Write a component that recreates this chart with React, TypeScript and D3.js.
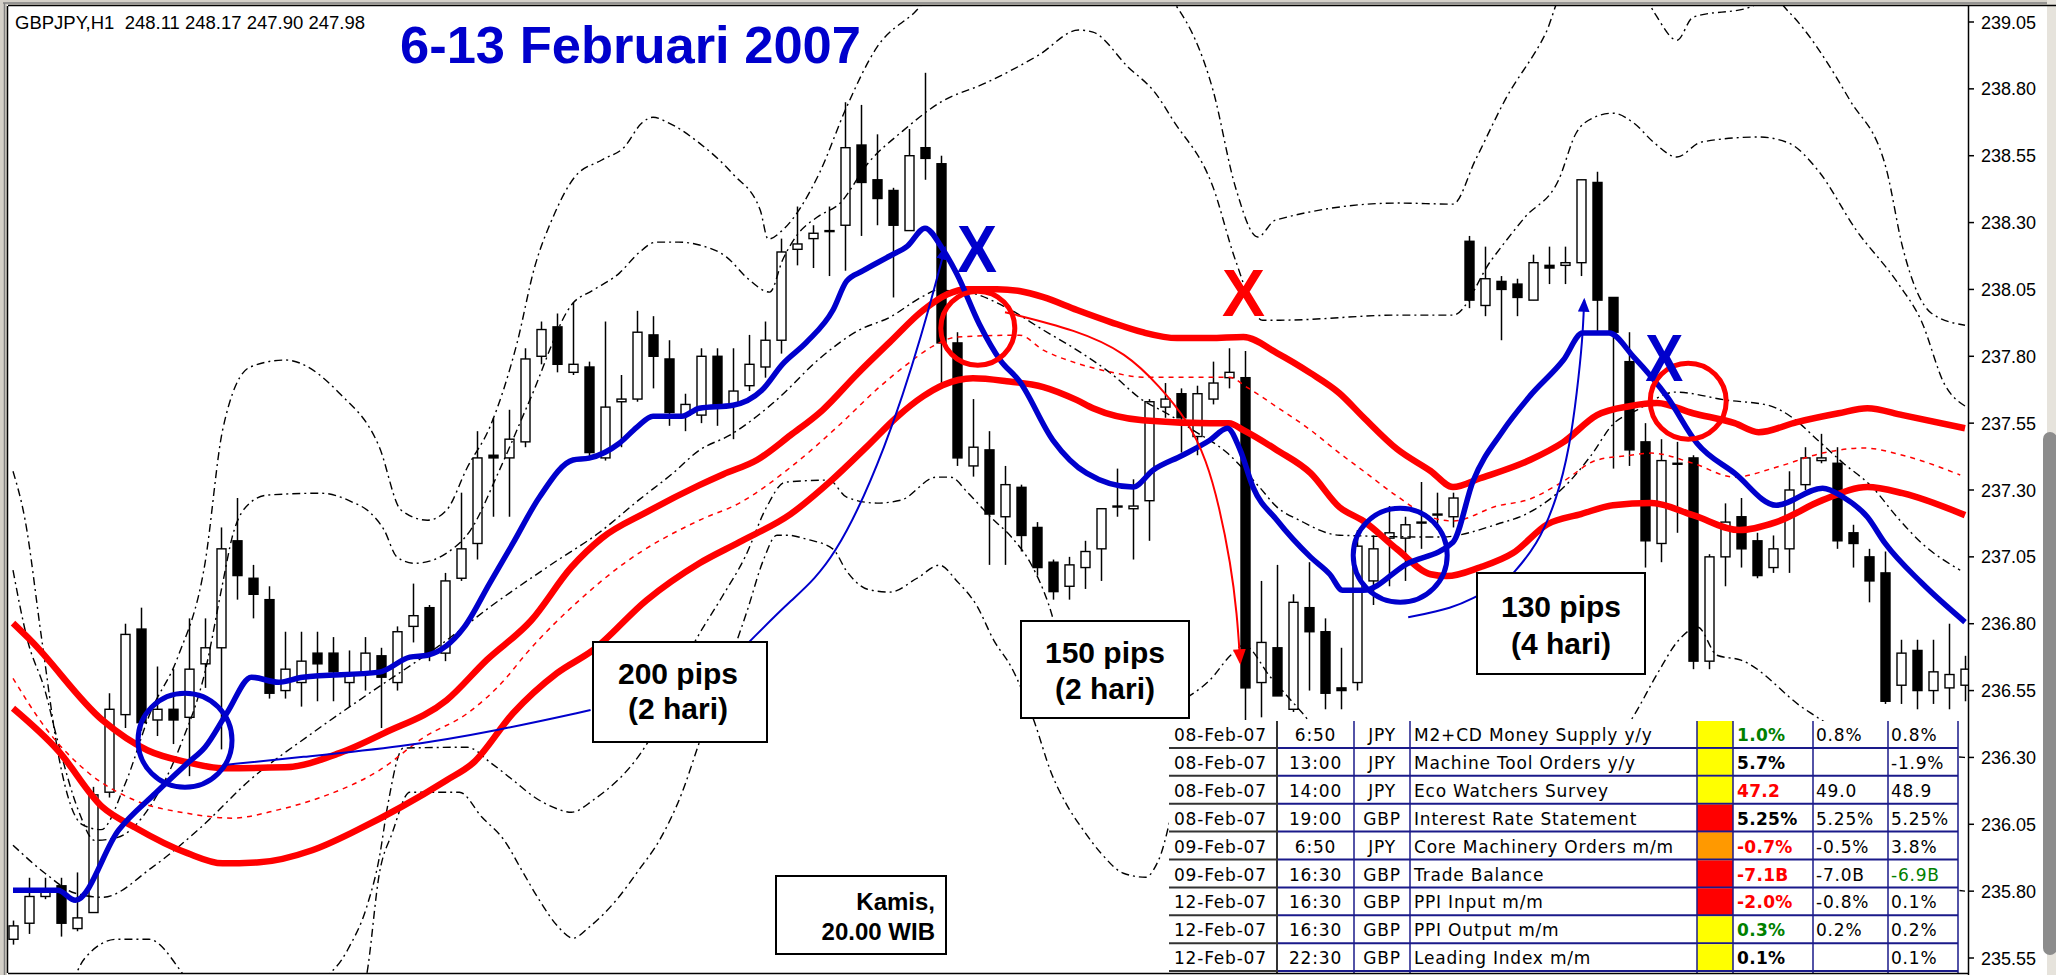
import React from 'react'
import * as d3 from 'd3'

const width = 2056
const height = 975
const frame = { left: 8, top: 6, right: 1968, bottom: 973 }
const bodyWidth = 9
const blue = '#0000CC'
const red = '#FF0000'

type Pt = [number, number]

const headerText = 'GBPJPY,H1  248.11 248.17 247.90 247.98'
const title = '6-13 Februari 2007'

const priceTicks = [239.05, 238.8, 238.55, 238.3, 238.05, 237.8, 237.55, 237.3, 237.05, 236.8, 236.55, 236.3, 236.05, 235.8, 235.55]

const candleOpen = [
  235.62, 235.68, 235.78, 235.82, 235.66, 235.72, 236.17, 236.46, 236.78, 236.44,
  236.48, 236.45, 236.65, 236.71, 237.11, 236.97, 236.89, 236.55, 236.58, 236.69,
  236.69, 236.58, 236.62, 236.68, 236.58, 236.79, 236.86, 236.69, 236.97, 237.1,
  237.43, 237.42, 237.48, 237.8, 237.91, 237.74, 237.76, 237.42, 237.63, 237.64,
  237.88, 237.79, 237.58, 237.58, 237.8, 237.62, 237.69, 237.76, 237.86, 238.2,
  238.24, 238.27, 238.29, 238.59, 238.46, 238.42, 238.27, 238.58, 238.52, 237.85,
  237.39, 237.45, 237.2, 237.31, 237.16, 237.03, 236.94, 237.01, 237.08, 237.24,
  237.23, 237.26, 237.61, 237.66, 237.5, 237.64, 237.72, 237.72, 236.58, 236.71,
  236.48, 236.86, 236.77, 236.56, 236.58, 236.96, 237.12, 237.12, 237.18, 237.21,
  237.2, 238.23, 237.99, 238.08, 238.07, 238.01, 238.14, 238.14, 238.15, 238.45,
  238.02, 237.78, 237.48, 237.1, 237.4, 237.42, 236.66, 237.05, 237.2, 237.11,
  237.01, 237.08, 237.32, 237.41, 237.4, 237.14, 237.05, 236.99, 236.57, 236.7,
  236.55, 236.56, 236.57,
]
const candleHigh = [
  235.69, 235.85, 235.85, 235.85, 235.87, 236.19, 236.54, 236.8, 236.86, 236.64,
  236.63, 236.82, 236.82, 237.16, 237.27, 237.02, 236.94, 236.77, 236.77, 236.77,
  236.75, 236.7, 236.75, 236.71, 236.79, 236.95, 236.87, 236.99, 237.29, 237.52,
  237.57, 237.6, 237.83, 237.93, 237.96, 238.0, 237.78, 237.93, 237.73, 237.97,
  237.95, 237.86, 237.66, 237.83, 237.83, 237.83, 237.88, 237.93, 238.24, 238.36,
  238.29, 238.36, 238.75, 238.74, 238.63, 238.43, 238.65, 238.86, 238.55, 237.89,
  237.64, 237.52, 237.39, 237.32, 237.18, 237.04, 237.05, 237.11, 237.23, 237.38,
  237.34, 237.64, 237.7, 237.68, 237.69, 237.78, 237.83, 237.82, 236.96, 237.02,
  236.91, 237.03, 236.82, 236.71, 237.15, 237.13, 237.24, 237.2, 237.33, 237.29,
  237.29, 238.25, 238.21, 238.1, 238.09, 238.18, 238.21, 238.21, 238.46, 238.49,
  238.02, 237.89, 237.55, 237.49, 237.48, 237.43, 237.06, 237.25, 237.27, 237.14,
  237.13, 237.37, 237.46, 237.51, 237.46, 237.17, 237.08, 237.07, 236.74, 236.74,
  236.74, 236.8, 236.68,
]
const candleLow = [
  235.6, 235.64, 235.77, 235.63, 235.65, 235.72, 236.15, 236.41, 236.4, 236.38,
  236.35, 236.23, 236.56, 236.33, 236.89, 236.82, 236.52, 236.52, 236.49, 236.51,
  236.51, 236.49, 236.55, 236.41, 236.55, 236.73, 236.66, 236.66, 236.96, 237.04,
  237.2, 237.2, 237.46, 237.77, 237.74, 237.73, 237.42, 237.41, 237.46, 237.63,
  237.68, 237.54, 237.52, 237.55, 237.54, 237.49, 237.67, 237.72, 237.81, 238.14,
  238.13, 238.1, 238.12, 238.25, 238.29, 238.02, 238.27, 238.46, 237.7, 237.39,
  237.35, 237.02, 237.02, 237.07, 236.98, 236.89, 236.89, 236.93, 236.96, 237.2,
  237.04, 237.11, 237.57, 237.44, 237.43, 237.62, 237.68, 236.44, 236.45, 236.53,
  236.47, 236.55, 236.48, 236.48, 236.55, 236.87, 236.94, 236.96, 237.08, 237.15,
  237.16, 237.98, 237.95, 237.86, 237.95, 238.01, 238.07, 238.07, 238.1, 237.88,
  237.38, 237.39, 237.01, 237.03, 237.14, 236.63, 236.63, 236.94, 237.01, 236.97,
  236.99, 236.99, 237.3, 237.4, 237.08, 237.01, 236.88, 236.5, 236.5, 236.48,
  236.5, 236.48, 236.51,
]
const candleClose = [
  235.67, 235.78, 235.8, 235.68, 235.7, 236.16, 236.48, 236.76, 236.43, 236.48,
  236.44, 236.63, 236.71, 237.08, 236.98, 236.91, 236.54, 236.63, 236.66, 236.65,
  236.62, 236.61, 236.69, 236.6, 236.77, 236.83, 236.69, 236.96, 237.08, 237.42,
  237.42, 237.49, 237.79, 237.9, 237.77, 237.77, 237.44, 237.61, 237.64, 237.89,
  237.8, 237.59, 237.62, 237.8, 237.62, 237.67, 237.77, 237.86, 238.19, 238.22,
  238.26, 238.27, 238.58, 238.45, 238.39, 238.29, 238.55, 238.54, 237.85, 237.42,
  237.46, 237.21, 237.32, 237.13, 237.01, 236.92, 237.02, 237.07, 237.23, 237.24,
  237.24, 237.63, 237.64, 237.57, 237.66, 237.7, 237.74, 236.56, 236.73, 236.53,
  236.88, 236.77, 236.54, 236.55, 237.09, 237.08, 237.14, 237.17, 237.18, 237.21,
  237.27, 238.01, 238.09, 238.05, 238.02, 238.15, 238.13, 238.15, 238.46, 238.01,
  237.89, 237.45, 237.11, 237.41, 237.4, 236.66, 237.05, 237.18, 237.08, 236.98,
  237.08, 237.3, 237.42, 237.42, 237.11, 237.1, 236.96, 236.51, 236.69, 236.55,
  236.62, 236.61, 236.63,
]

// indicator lines, [bar index, price]
const blueLine: Pt[] = [[0,235.803],[2.8,235.803],[3.9,235.766],[6.6,236.028],[8.9,236.166],[10.9,236.278],[12,236.338],[13.4,236.469],[14.9,236.6],[16.6,236.581],[18.1,236.6],[22.9,236.619],[24.8,236.675],[25.9,236.682],[28.2,236.787],[29.8,236.952],[31.25,237.101],[32.9,237.273],[35,237.412],[36,237.419],[37.9,237.475],[39,237.535],[40,237.576],[41.8,237.576],[42.9,237.606],[45,237.617],[46.8,237.673],[48.1,237.771],[49.6,237.853],[51.25,237.973],[52.1,238.081],[53.1,238.119],[54.8,238.175],[55.9,238.212],[57,238.279],[58.1,238.201],[59,238.107],[60.4,237.92],[61.7,237.786],[62.9,237.707],[65,237.486],[67.1,237.363],[70,237.311],[71.25,237.374],[73.1,237.43],[74.8,237.486],[75.9,237.531],[76.7,237.449],[77.5,237.311],[79,237.187],[81.1,237.049],[82.3,236.985],[83.1,236.925],[84.4,236.925],[87.1,237.023],[90,237.105],[91.25,237.333],[93.1,237.52],[94.8,237.651],[96.9,237.786],[98.1,237.887],[99.75,237.887],[101.3,237.797],[103.4,237.647],[105.25,237.475],[107.6,237.363],[110.2,237.243],[113.1,237.307],[114.4,237.273],[115.9,237.199],[117,237.101],[119.3,236.952],[122,236.806]]

const redUpper: Pt[] = [[0,236.802],[1.1,236.738],[5.6,236.439],[8.4,236.327],[10.9,236.282],[13.1,236.26],[17,236.263],[20.4,236.316],[23.2,236.391],[27.1,236.514],[29.6,236.664],[32.4,236.813],[34.9,237.011],[36.8,237.12],[39.6,237.217],[42.9,237.318],[44.4,237.359],[46.5,237.412],[48.6,237.505],[50.6,237.599],[52.75,237.733],[54.8,237.853],[56.9,237.973],[58.4,238.032],[59.6,238.051],[61.5,238.051],[62.9,238.044],[64.4,238.021],[66.5,237.973],[68.6,237.928],[70.6,237.89],[72.75,237.868],[74.8,237.868],[76.9,237.872],[79,237.812],[81.1,237.737],[82.9,237.662],[84.4,237.572],[86.5,237.453],[88.6,237.371],[90,237.311],[91.7,237.344],[94.8,237.412],[96.9,237.479],[99,237.58],[101.1,237.614],[102.75,237.625],[105,237.587],[107.6,237.55],[109.1,237.516],[111.5,237.554],[114.1,237.587],[115.9,237.606],[118.1,237.58],[122,237.531]]

const redLower: Pt[] = [[0,236.484],[2.8,236.327],[5.6,236.114],[7.6,236.039],[10.9,235.942],[13.1,235.904],[15.4,235.908],[18.7,235.953],[21.5,236.028],[24.25,236.114],[27.1,236.215],[28.75,236.279],[31.25,236.465],[34,236.615],[36.25,236.701],[39.6,236.888],[42.9,237.026],[45.4,237.105],[48.6,237.21],[51.1,237.333],[53.4,237.464],[55.25,237.573],[56.9,237.651],[58.1,237.692],[60,237.718],[62.1,237.707],[64.4,237.685],[66.5,237.636],[67.5,237.606],[70.6,237.561],[74.8,237.55],[76,237.55],[76.9,237.524],[79,237.449],[81.1,237.363],[82.9,237.236],[84.4,237.184],[86.5,237.079],[88.6,236.985],[89.6,236.978],[91.7,237.011],[93.75,237.064],[95.9,237.172],[98,237.21],[100,237.243],[102.4,237.251],[105,237.206],[107.9,237.15],[110.2,237.18],[113.1,237.262],[115.9,237.311],[118.1,237.288],[122,237.206]]

const redMiddle: Pt[] = [[0,236.596],[2,236.413],[4.75,236.241],[7.6,236.14],[10.9,236.091],[13.7,236.073],[16.5,236.103],[19.25,236.151],[22.9,236.252],[25.7,236.376],[28.4,236.465],[30.7,236.589],[32.1,236.69],[35.4,236.888],[38.2,237.026],[42.9,237.187],[45.4,237.251],[48.6,237.385],[51.7,237.546],[54,237.677],[55.9,237.771],[57.5,237.838],[59,237.872],[62.9,237.879],[64.4,237.823],[66.5,237.774],[68.6,237.741],[70.6,237.722],[76,237.722],[77.1,237.685],[79,237.61],[81.1,237.524],[82.9,237.438],[84.4,237.371],[86.5,237.277],[88.6,237.199],[90,237.184],[92.75,237.24],[94.8,237.266],[96.9,237.333],[99,237.412],[101.1,237.43],[102.4,237.438],[105,237.4],[107.6,237.348],[110.2,237.385],[113.1,237.438],[115.7,237.457],[118.1,237.43],[121.7,237.356]]

const bandMiddle: Pt[] = [[0,235.972],[2,235.867],[3.9,235.792],[5.6,235.777],[8.7,235.889],[11.75,236.039],[14.8,236.215],[18.7,236.391],[22.1,236.533],[27.1,236.738],[29.8,236.862],[33.75,237.026],[36.6,237.139],[39.1,237.262],[41.25,237.363],[42.9,237.449],[44.8,237.505],[47.5,237.625],[50.6,237.801],[52.75,237.894],[54.8,237.946],[56.9,238.025],[57.75,238.047],[59.6,238.04],[61.9,237.988],[64.4,237.898],[66.5,237.823],[68.6,237.737],[70.6,237.636],[72.1,237.587],[73.75,237.524],[75.9,237.438],[77.9,237.311],[79,237.236],[80.4,237.187],[82.9,237.131],[89.2,237.124],[92.75,237.172],[94.8,237.217],[97.3,237.333],[98.6,237.427],[100,237.546],[101.5,237.599],[103.9,237.666],[107.1,237.636],[109.7,237.617],[111.25,237.569],[112.8,237.486],[114.4,237.4],[116.2,237.311],[117.75,237.199],[119.3,237.101],[121.7,237.0]]

const bandUpperOuter: Pt[] = [[0,237.37],[0.75,237.19],[1.8,236.74],[2.9,236.29],[4.3,236.05],[5.5,236.03],[7,236.2],[8.6,236.47],[10.3,236.675],[12,237.026],[13.1,237.524],[14.8,237.759],[17,237.786],[20.4,237.662],[22.9,237.46],[24.25,237.225],[25.9,237.187],[27.1,237.225],[28.4,237.385],[29.8,237.535],[31.5,237.849],[32.6,238.133],[33.75,238.32],[35.1,238.47],[36.8,238.534],[38.2,238.582],[39.3,238.672],[40,238.694],[41,238.672],[42.9,238.597],[45,238.481],[46.7,238.347],[47.2,238.238],[48.1,238.272],[50.4,238.485],[52.1,238.732],[54,238.956],[56.3,239.083],[57.9,239.17],[71.7,239.17],[72.75,239.106],[75,238.795],[76.4,238.433],[77.8,238.246],[78.9,238.309],[86.6,238.373],[90,238.369],[91.4,238.534],[93.25,238.758],[95.8,239.009],[97,239.17],[101.7,239.17],[102.6,239.083],[104,238.982],[105,239.068],[108.6,239.106],[109.8,239.15],[111,239.087],[114.8,238.758],[117.1,238.496],[118.1,238.208],[119.9,237.961],[122,237.916]]

const bandUpperInner: Pt[] = [[0,237.0],[0.9,236.74],[2,236.55],[2.8,236.36],[4.1,236.1],[5.1,235.99],[6.5,236.0],[8.6,236.12],[10.5,236.35],[12,236.62],[13.1,236.95],[13.7,237.124],[14.8,237.251],[15.9,237.281],[19.25,237.288],[21.2,237.255],[22.3,237.217],[23.2,237.15],[24,237.049],[25.1,237.026],[26.25,237.038],[27.1,237.064],[28.6,237.15],[30.4,237.374],[32.3,237.636],[35,237.999],[36.25,238.047],[37.9,238.111],[39.1,238.186],[40.2,238.227],[41.6,238.227],[42.9,238.216],[44.6,238.171],[45.9,238.092],[47.3,238.04],[48.1,238.16],[49,238.253],[50.25,238.32],[51.7,238.373],[53.4,238.519],[55.6,238.642],[58,238.751],[60.8,238.822],[64.1,238.926],[66.6,239.02],[67.5,239.012],[69.7,238.881],[71.4,238.784],[72.5,238.683],[75,238.433],[76.4,238.16],[78.1,237.935],[79.2,237.935],[86.6,237.954],[90,237.954],[92.4,238.16],[94.5,238.32],[96.6,238.459],[97.7,238.635],[98.2,238.672],[100,238.709],[101.3,238.672],[102.6,238.597],[104,238.545],[105.5,238.601],[109.1,238.62],[111,238.597],[112.8,238.496],[115.2,238.272],[117.8,238.074],[119.25,237.935],[120.75,237.692],[122,237.614]]

const bandLowerInner: Pt[] = [[0,234.9],[2.5,235.25],[4.5,235.55],[6.5,235.62],[8.5,235.62],[10.5,235.5],[12.5,235.3],[15,235.15],[17.9,235.4],[20.9,235.579],[22.1,235.74],[22.9,235.927],[23.4,236.114],[24.4,236.335],[28.4,236.338],[29.9,236.278],[31.25,236.215],[32.6,236.151],[33.75,236.114],[34.9,236.095],[36.25,236.14],[39.75,236.364],[42.6,236.731],[44.3,236.899],[45.75,237.049],[47.1,237.236],[48.25,237.329],[51,237.337],[52.1,237.273],[54,237.251],[55.5,237.262],[57.7,237.348],[58.6,237.348],[59.7,237.288],[61.1,237.199],[62.4,237.124],[63.6,237.026],[64.7,236.877],[65.4,236.74],[67.9,236.51],[71,236.48],[73.6,236.533],[74.8,236.589],[76.1,236.682],[76.9,236.72],[78.6,236.6],[80.6,236.465],[83,236.3],[88,236.28],[93,236.2],[97,236.2],[101.25,236.451],[102.75,236.611],[104.1,236.738],[105.3,236.787],[106.5,236.682],[108,236.664],[112,236.48],[116,236.35],[122,236.3]]

const bandLowerOuter: Pt[] = [[18,234.8],[21.7,235.39],[22.1,235.486],[22.9,235.867],[23.7,236.017],[24.8,236.17],[27.9,236.17],[29.3,236.077],[30.7,235.99],[31.8,235.878],[32.9,235.766],[34.1,235.665],[35,235.624],[36,235.665],[37.7,235.766],[39.1,235.878],[40.4,235.99],[41.8,236.166],[42.9,236.357],[45.9,236.851],[46.9,237.038],[47.75,237.131],[48.4,237.131],[49.6,237.116],[51.25,237.079],[52.1,236.997],[53.4,236.929],[54.8,236.918],[56.5,236.97],[57.9,237.019],[59,236.959],[60.25,236.866],[61.3,236.738],[62.4,236.637],[63.8,236.439],[64.9,236.241],[65.8,236.129],[66.9,236.028],[68,235.942],[69.4,235.867],[70.8,235.852],[71.6,235.916],[73,236.2],[75,236.3],[78,236.1],[82,235.9],[90,235.8],[96,235.8],[100,235.9],[104,236.2],[108,236.2],[115,235.9],[122,235.8]]

// hand-drawn annotation strokes, [bar index, price]
const arrow200: Pt[] = [[46,236.731],[48.6,236.888],[51.3,237.026],[54.6,237.46],[56.9,237.898],[58.25,238.205]]
const link200: Pt[] = [[13.1,236.271],[17.9,236.301],[24.25,236.338],[30.4,236.402],[36.1,236.477]]
const arrow150: Pt[] = [[62,237.965],[66.5,237.898],[69.6,237.812],[71.7,237.685],[73.4,237.561],[74.6,237.412],[75.4,237.236],[76.1,237.026],[76.5,236.839],[76.7,236.656]]
const arrow130: Pt[] = [[93.6,236.978],[95.25,237.09],[96.5,237.266],[97.3,237.464],[97.75,237.666],[98.1,237.864],[98.2,238.01]]
const link130: Pt[] = [[87.2,236.824],[90,236.858],[91.5,236.903]]

const circleCenters: Pt[] = [[10.75,236.364],[60.3,237.905],[86.7,237.056],[104.7,237.632]]
const circleColors = [blue, red, blue, red]
const circleRadius = [47, 37, 47, 38]

const crossMarks: Pt[] = [[60.25,238.205],[76.9,238.04],[103.2,237.797]]
const crossColors = [blue, red, blue]
const crossWidths = [40, 43, 38]

const tableDates = ['08-Feb-07', '08-Feb-07', '08-Feb-07', '08-Feb-07', '09-Feb-07', '09-Feb-07', '12-Feb-07', '12-Feb-07', '12-Feb-07']
const tableTimes = ['6:50', '13:00', '14:00', '19:00', '6:50', '16:30', '16:30', '16:30', '22:30']
const tableCcy = ['JPY', 'JPY', 'JPY', 'GBP', 'JPY', 'GBP', 'GBP', 'GBP', 'GBP']
const tableEvents = ['M2+CD Money Supply y/y', 'Machine Tool Orders y/y', 'Eco Watchers Survey', 'Interest Rate Statement', 'Core Machinery Orders m/m', 'Trade Balance', 'PPI Input m/m', 'PPI Output m/m', 'Leading Index m/m']
const tableImpact = ['#FFFF00', '#FFFF00', '#FFFF00', '#FF0000', '#FF9900', '#FF0000', '#FF0000', '#FFFF00', '#FFFF00']
const tableActual = ['1.0%', '5.7%', '47.2', '5.25%', '-0.7%', '-7.1B', '-2.0%', '0.3%', '0.1%']
const tableActualColor = ['#008000', '#000000', '#FF0000', '#000000', '#FF0000', '#FF0000', '#FF0000', '#008000', '#000000']
const tableForecast = ['0.8%', '', '49.0', '5.25%', '-0.5%', '-7.0B', '-0.8%', '0.2%', '']
const tablePrevious = ['0.8%', '-1.9%', '48.9', '5.25%', '3.8%', '-6.9B', '0.1%', '0.2%', '0.1%']
const tablePreviousColor = ['#000', '#000', '#000', '#000', '#000', '#008000', '#000', '#000', '#000']

const tableCols = [1169, 1277, 1354, 1410, 1697, 1733, 1813, 1888, 1958]
const tableTop = 721
const rowH = 27.9

function Box({ x, y, w, h, lines, size, anchor = 'middle', tx, ys }) {
  return (
    <g>
      <rect x={x} y={y} width={w} height={h} fill="#fff" stroke="#000" strokeWidth={2} />
      {lines.map((t, i) => (
        <text key={i} x={tx} y={ys[i]} textAnchor={anchor} fontFamily="'Liberation Sans', Arial, sans-serif" fontWeight="bold" fontSize={size} fill="#000">
          {t}
        </text>
      ))}
    </g>
  )
}

export default function App() {
  const x = d3.scaleLinear().domain([0, 122]).range([13, 1965])
  const y = d3.scaleLinear().domain([235.55, 239.05]).range([958, 22])
  const line = d3.line<Pt>().x((d) => x(d[0])).y((d) => y(d[1])).curve(d3.curveMonotoneX)
  const smooth = d3.line<Pt>().x((d) => x(d[0])).y((d) => y(d[1])).curve(d3.curveBasis)

  const candles = candleOpen.map((o, i) => {
    const c = candleClose[i]
    const cx = Math.round(x(i)) + 0.5
    const top = y(Math.max(o, c))
    const bot = y(Math.min(o, c))
    const up = c >= o
    return (
      <g key={i}>
        <line x1={cx} x2={cx} y1={y(candleHigh[i])} y2={y(candleLow[i])} stroke="#000" strokeWidth={1.5} />
        <rect
          x={cx - bodyWidth / 2}
          y={top}
          width={bodyWidth}
          height={Math.max(bot - top, 1)}
          fill={up ? '#fff' : '#000'}
          stroke="#000"
          strokeWidth={1.4}
        />
      </g>
    )
  })

  const bandDash = '8,4,2,4'
  const bands = [bandUpperOuter, bandUpperInner, bandMiddle, bandLowerInner, bandLowerOuter].map((b, i) => (
    <path key={i} d={line(b)} fill="none" stroke="#000" strokeWidth={1.4} strokeDasharray={bandDash} />
  ))

  const tableRows = tableDates.map((d, i) => {
    const top = tableTop + i * rowH
    const base = top + 20
    const font = "'DejaVu Sans', Verdana, sans-serif"
    return (
      <g key={i} fontFamily={font} fontSize={17} letterSpacing={0.8}>
        <rect x={tableCols[4]} y={top} width={tableCols[5] - tableCols[4]} height={rowH} fill={tableImpact[i]} />
        <text x={tableCols[0] + 5} y={base} fill="#000">{d}</text>
        <text x={(tableCols[1] + tableCols[2]) / 2} y={base} textAnchor="middle" fill="#000">{tableTimes[i]}</text>
        <text x={(tableCols[2] + tableCols[3]) / 2} y={base} textAnchor="middle" fill="#000">{tableCcy[i]}</text>
        <text x={tableCols[3] + 4} y={base} fill="#000">{tableEvents[i]}</text>
        <text x={tableCols[5] + 4} y={base} fill={tableActualColor[i]} fontWeight="bold" letterSpacing={0.3}>{tableActual[i]}</text>
        <text x={tableCols[6] + 3} y={base} fill="#000">{tableForecast[i]}</text>
        <text x={tableCols[7] + 3} y={base} fill={tablePreviousColor[i]}>{tablePrevious[i]}</text>
        <line x1={tableCols[0]} x2={tableCols[1]} y1={top + rowH - 1} y2={top + rowH - 1} stroke="#333" strokeWidth={2} />
        <line x1={tableCols[1]} x2={tableCols[8]} y1={top + rowH - 1} y2={top + rowH - 1} stroke="#1a1a8a" strokeWidth={2} />
      </g>
    )
  })

  return (
    <svg
      width={width}
      height={height}
      viewBox={`0 0 ${width} ${height}`}
      style={{ position: 'absolute', left: 0, top: 0, background: '#fff' }}
    >
      <defs>
        <clipPath id="plot">
          <rect x={frame.left} y={frame.top} width={frame.right - frame.left} height={frame.bottom - frame.top} />
        </clipPath>
        <marker id="arrowBlue" viewBox="0 0 12 10" refX={10} refY={5} markerWidth={14} markerHeight={12} markerUnits="userSpaceOnUse" orient="auto">
          <path d="M0,0 L12,5 L0,10 z" fill={blue} />
        </marker>
        <marker id="arrowRed" viewBox="0 0 12 10" refX={10} refY={5} markerWidth={16} markerHeight={13} markerUnits="userSpaceOnUse" orient="auto">
          <path d="M0,0 L12,5 L0,10 z" fill={red} />
        </marker>
      </defs>

      {/* window chrome */}
      <rect x={0} y={0} width={width} height={height} fill="#fff" />
      <rect x={0} y={0} width={7} height={height} fill="#d4d0c8" />
      <rect x={0} y={0} width={width} height={5} fill="#d4d0c8" />
      <line x1={4.5} x2={4.5} y1={3} y2={height} stroke="#808080" strokeWidth={1.5} />
      <line x1={3} x2={width} y1={3} y2={3} stroke="#808080" strokeWidth={1.5} />
      <rect x={2047} y={0} width={9} height={height} fill="#e6e3dc" />
      <rect x={2043} y={432} width={14} height={523} rx={7} fill="#8c8c8c" />

      <g clipPath="url(#plot)">
        {candles}
        {bands}
        <path d={line(redMiddle)} fill="none" stroke={red} strokeWidth={1.5} strokeDasharray="5,5" />
        <path d={line(redUpper)} fill="none" stroke={red} strokeWidth={6.5} strokeLinejoin="round" />
        <path d={line(redLower)} fill="none" stroke={red} strokeWidth={6.5} strokeLinejoin="round" />
        <path d={line(blueLine)} fill="none" stroke={blue} strokeWidth={5.5} strokeLinejoin="round" />

        {circleCenters.map((c, i) => (
          <ellipse key={i} cx={x(c[0])} cy={y(c[1])} rx={circleRadius[i]} ry={circleRadius[i]} fill="none" stroke={circleColors[i]} strokeWidth={5} />
        ))}
        <path d={smooth(link200)} fill="none" stroke={blue} strokeWidth={2} />
        <path d={smooth(arrow200)} fill="none" stroke={blue} strokeWidth={2} markerEnd="url(#arrowBlue)" />
        <path d={smooth(arrow150)} fill="none" stroke={red} strokeWidth={2} markerEnd="url(#arrowRed)" />
        <path d={smooth(arrow130)} fill="none" stroke={blue} strokeWidth={2} markerEnd="url(#arrowBlue)" />
        <path d={smooth(link130)} fill="none" stroke={blue} strokeWidth={2} />

        {crossMarks.map((c, i) => (
          <text
            key={i}
            x={x(c[0])}
            y={y(c[1]) + 24}
            textAnchor="middle"
            fontFamily="'Liberation Sans', Arial, sans-serif"
            fontWeight="bold"
            fontSize={66}
            fill={crossColors[i]}
            textLength={crossWidths[i]}
            lengthAdjust="spacingAndGlyphs"
          >
            X
          </text>
        ))}

        <Box x={593} y={642} w={174} h={100} lines={['200 pips', '(2 hari)']} size={30} tx={678} ys={[684, 719]} />
        <Box x={1021} y={621} w={168} h={97} lines={['150 pips', '(2 hari)']} size={30} tx={1105} ys={[663, 699]} />
        <Box x={1477} y={573} w={168} h={101} lines={['130 pips', '(4 hari)']} size={30} tx={1561} ys={[617, 654]} />
        <Box x={776} y={876} w={170} h={78} lines={['Kamis,', '20.00 WIB']} size={24} anchor="end" tx={935} ys={[910, 940]} />

        {/* news table */}
        <rect x={tableCols[0]} y={tableTop} width={tableCols[8] - tableCols[0]} height={frame.bottom - tableTop} fill="#fff" />
        {tableRows}
        <line x1={tableCols[1]} x2={tableCols[1]} y1={tableTop} y2={frame.bottom} stroke="#333" strokeWidth={2} />
        {tableCols.slice(2).map((c, i) => (
          <line key={i} x1={c} x2={c} y1={tableTop} y2={frame.bottom} stroke="#1a1a8a" strokeWidth={1.5} />
        ))}
      </g>

      {/* frame and price axis */}
      <line x1={frame.left - 0.5} x2={frame.left - 0.5} y1={frame.top} y2={frame.bottom} stroke="#000" strokeWidth={1.5} />
      <line x1={frame.left} x2={width} y1={frame.top - 0.5} y2={frame.top - 0.5} stroke="#000" strokeWidth={1.5} />
      <line x1={frame.left} x2={frame.right} y1={frame.bottom + 0.5} y2={frame.bottom + 0.5} stroke="#000" strokeWidth={1.5} />
      <line x1={frame.right + 0.5} x2={frame.right + 0.5} y1={frame.top} y2={height} stroke="#000" strokeWidth={1.5} />
      {priceTicks.map((p) => (
        <g key={p}>
          <line x1={frame.right} x2={frame.right + 6} y1={y(p)} y2={y(p)} stroke="#000" strokeWidth={1.5} />
          <text x={frame.right + 13} y={y(p) + 6.5} fontFamily="'Liberation Sans', Arial, sans-serif" fontSize={18} fill="#000">
            {p.toFixed(2)}
          </text>
        </g>
      ))}

      <text x={15} y={29} fontFamily="'Liberation Sans', Arial, sans-serif" fontSize={18} fill="#000" textLength={350} lengthAdjust="spacingAndGlyphs" xmlSpace="preserve">
        {headerText}
      </text>
      <text x={400} y={63} fontFamily="'Liberation Sans', Arial, sans-serif" fontWeight="bold" fontSize={52} fill={blue} textLength={461} lengthAdjust="spacingAndGlyphs">
        {title}
      </text>
    </svg>
  )
}
